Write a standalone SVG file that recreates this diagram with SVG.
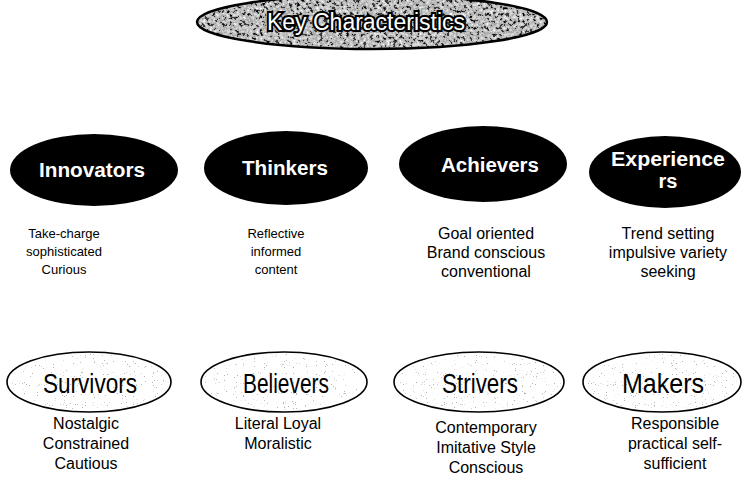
<svg xmlns="http://www.w3.org/2000/svg" width="742" height="481" viewBox="0 0 742 481">
  <defs>
    <!-- grainy stone texture for the title banner -->
    <filter id="stone" x="0" y="0" width="100%" height="100%">
      <feTurbulence type="fractalNoise" baseFrequency="0.3" numOctaves="3" seed="7" result="noise"/>
      <feColorMatrix in="noise" type="matrix" values="1 0 0 0 0  1 0 0 0 0  1 0 0 0 0  0 0 0 0 1" result="gray"/>
      <feComponentTransfer in="gray" result="steps">
        <feFuncR type="discrete" tableValues="0 0 0.05 0.4 0.55 0.7 0.95 1"/>
        <feFuncG type="discrete" tableValues="0 0 0.05 0.4 0.55 0.7 0.95 1"/>
        <feFuncB type="discrete" tableValues="0 0 0.05 0.4 0.55 0.7 0.95 1"/>
      </feComponentTransfer>
      <feComposite in="steps" in2="SourceGraphic" operator="in"/>
    </filter>
    <!-- sparse dust speckle for the outlined ovals -->
    <filter id="dust" x="0" y="0" width="100%" height="100%">
      <feTurbulence type="fractalNoise" baseFrequency="0.9" numOctaves="2" seed="3" result="noise"/>
      <feColorMatrix in="noise" type="matrix" values="0 0 0 0 0.45  0 0 0 0 0.45  0 0 0 0 0.45  -14 0 0 0 4.2" result="dots"/>
      <feComposite in="dots" in2="SourceGraphic" operator="in"/>
    </filter>
    <style>
      .title { font-family: "Liberation Sans", Arial, sans-serif; font-size: 23px; fill: #fff; stroke: #000; stroke-width: 4px; paint-order: stroke; text-anchor: middle; }
      .dark { fill: #000; }
      .dlabel { font-family: "Liberation Sans", Arial, sans-serif; font-size: 20px; font-weight: bold; fill: #fff; text-anchor: middle; }
      .oval { fill: #fff; stroke: #000; stroke-width: 1.6px; }
      .olabel { font-family: "Liberation Sans", Arial, sans-serif; font-size: 27px; fill: #000; text-anchor: middle; }
      .desc { font-family: "Liberation Sans", Arial, sans-serif; font-size: 16px; fill: #000; text-anchor: middle; }
      .small { font-size: 13px; }
    </style>
  </defs>

  <rect width="742" height="481" fill="#fff"/>

  <!-- title banner -->
  <g id="title">
    <ellipse cx="372" cy="22" rx="175" ry="27" fill="#555"/>
    <ellipse cx="372" cy="22" rx="175" ry="27" fill="#888" filter="url(#stone)"/>
    <ellipse cx="372" cy="22" rx="175" ry="27" fill="none" stroke="#000" stroke-width="2.5"/>
    <text class="title" x="366" y="30" textLength="198" lengthAdjust="spacingAndGlyphs">Key Characteristics</text>
  </g>

  <!-- upper row: dark ovals -->
  <g id="innovators">
    <ellipse class="dark" cx="94" cy="170" rx="84" ry="36"/>
    <text class="dlabel" x="92" y="177" textLength="106" lengthAdjust="spacingAndGlyphs">Innovators</text>
    <text class="desc small" x="64" y="238">Take-charge</text>
    <text class="desc small" x="64" y="256">sophisticated</text>
    <text class="desc small" x="64" y="274">Curious</text>
  </g>
  <g id="thinkers">
    <ellipse class="dark" cx="286" cy="168" rx="82" ry="37"/>
    <text class="dlabel" x="285" y="175" textLength="86" lengthAdjust="spacingAndGlyphs">Thinkers</text>
    <text class="desc small" x="276" y="238">Reflective</text>
    <text class="desc small" x="276" y="256">informed</text>
    <text class="desc small" x="276" y="274">content</text>
  </g>
  <g id="achievers">
    <ellipse class="dark" cx="483" cy="164" rx="84" ry="38"/>
    <text class="dlabel" x="490" y="172" textLength="98" lengthAdjust="spacingAndGlyphs">Achievers</text>
    <text class="desc" x="486" y="239">Goal oriented</text>
    <text class="desc" x="486" y="258">Brand conscious</text>
    <text class="desc" x="486" y="277">conventional</text>
  </g>
  <g id="experiencers">
    <ellipse class="dark" cx="665" cy="172" rx="76" ry="36"/>
    <text class="dlabel" x="668" y="166" textLength="114" lengthAdjust="spacingAndGlyphs">Experience</text>
    <text class="dlabel" x="668" y="188">rs</text>
    <text class="desc" x="668" y="239">Trend setting</text>
    <text class="desc" x="668" y="258">impulsive variety</text>
    <text class="desc" x="668" y="277">seeking</text>
  </g>

  <!-- lower row: outlined ovals -->
  <g id="survivors">
    <ellipse class="oval" cx="89" cy="382" rx="82" ry="30"/>
    <ellipse cx="89" cy="382" rx="79" ry="28" fill="#fff" filter="url(#dust)"/>
    <text class="olabel" x="90" y="393" textLength="94" lengthAdjust="spacingAndGlyphs">Survivors</text>
    <text class="desc" x="86" y="429">Nostalgic</text>
    <text class="desc" x="86" y="449">Constrained</text>
    <text class="desc" x="86" y="469">Cautious</text>
  </g>
  <g id="believers">
    <ellipse class="oval" cx="284" cy="382" rx="83" ry="30"/>
    <ellipse cx="284" cy="382" rx="80" ry="28" fill="#fff" filter="url(#dust)"/>
    <text class="olabel" x="286" y="393" textLength="86" lengthAdjust="spacingAndGlyphs">Believers</text>
    <text class="desc" x="278" y="429">Literal Loyal</text>
    <text class="desc" x="278" y="449">Moralistic</text>
  </g>
  <g id="strivers">
    <ellipse class="oval" cx="479" cy="382" rx="85" ry="30"/>
    <ellipse cx="479" cy="382" rx="82" ry="28" fill="#fff" filter="url(#dust)"/>
    <text class="olabel" x="480" y="393" textLength="76" lengthAdjust="spacingAndGlyphs">Strivers</text>
    <text class="desc" x="486" y="433">Contemporary</text>
    <text class="desc" x="486" y="453">Imitative Style</text>
    <text class="desc" x="486" y="473">Conscious</text>
  </g>
  <g id="makers">
    <ellipse class="oval" cx="662" cy="382" rx="79" ry="30"/>
    <ellipse cx="662" cy="382" rx="76" ry="28" fill="#fff" filter="url(#dust)"/>
    <text class="olabel" x="663" y="393" textLength="82" lengthAdjust="spacingAndGlyphs">Makers</text>
    <text class="desc" x="675" y="429">Responsible</text>
    <text class="desc" x="675" y="449">practical self-</text>
    <text class="desc" x="675" y="469">sufficient</text>
  </g>

  <!-- no connectors are drawn between these nodes -->
  <g id="connectors"/>
</svg>
